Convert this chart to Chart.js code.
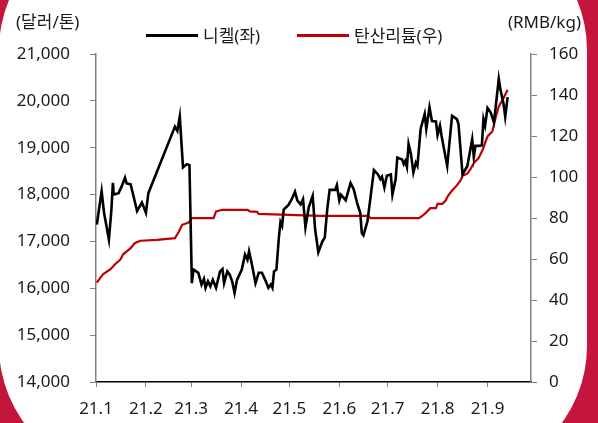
<!DOCTYPE html>
<html>
<head>
<meta charset="utf-8">
<script src="https://cdn.jsdelivr.net/npm/chart.js@4"></script>
<style>
html, body { margin: 0; padding: 0; }
body { width: 598px; height: 423px; background: #c4153c; overflow: hidden; position: relative; }
#card { position: absolute; left: -1px; top: -80px; width: 588px; height: 556px; background: #fff; border-radius: 130px; }
#wrap { position: absolute; left: 0; top: 0; width: 598px; height: 423px; }
</style>
</head>
<body>
<div id="card"></div>
<div id="wrap"><canvas id="chart" width="598" height="423"></canvas></div>
<script>
// x axis: days since 2021-01-01, ticks at month starts
const monthDays = [0, 31, 59, 90, 120, 151, 181, 212, 243];
const monthLabels = ['21.1', '21.2', '21.3', '21.4', '21.5', '21.6', '21.7', '21.8', '21.9'];
const leftUnit = '(달러/톤)';
const rightUnit = '(RMB/kg)';

// 니켈 (USD/ton, left axis)
const nickelDays = [0.5, 3.5, 5, 8, 9.5, 10.5, 11, 14, 16, 18, 19, 21.5, 25.5, 28.5, 31, 32.5,
  49, 50.5, 52, 54, 56.5, 58, 59.5, 60.5, 63.5, 65.5, 67, 68, 69.5, 71, 72.5, 74.5, 77, 78.5,
  79.5, 81.5, 83, 84.5, 86, 87.5, 90.5, 92.5, 94, 95, 97, 99, 101, 103, 105, 107, 108.5, 109.5,
  110.5, 112, 113.5, 114.5, 115.5, 116.5, 119.5, 121.5, 123.5, 125, 127, 128.5, 130, 132,
  134.5, 136, 138, 140.5, 142, 143.5, 145, 148.5, 149.5, 151, 152, 155, 158, 160, 162, 164,
  165, 166, 168.5, 170.5, 172.5, 175, 176.5, 177.5, 179, 180.5, 183, 184, 186, 187, 190, 191,
  192, 193, 194, 195.5, 197, 198.5, 199.5, 201.5, 204, 205, 207, 208.5, 211, 212, 213.5, 214.5,
  218, 221, 224, 225, 227.5, 230.5, 233.5, 234.5, 235.5, 237.5, 239.5, 240.5, 241.5, 243, 245,
  247, 250, 251, 253, 254, 255.5];
const nickelValues = [17360, 18070, 17610, 17040, 17650, 18250, 18000, 18030, 18180, 18360, 18240,
  18220, 17650, 17830, 17610, 18030,
  19450, 19360, 19670, 18580, 18650, 18630, 16110, 16400, 16330, 16080, 16200, 16010, 16150,
  16040, 16180, 16010, 16360, 16410, 16110, 16360, 16290, 16150, 15900, 16180, 16400, 16720,
  16610, 16790, 16470, 16110, 16330, 16330, 16180, 16010, 16080, 16010, 16360, 16400, 17080,
  17410, 17330, 17680, 17780, 17900, 18060, 17870, 17790, 17900, 17300, 17720, 17970, 17260,
  16770, 17000, 17080, 17680, 18100, 18100, 18200, 17880, 18000, 17880, 18250, 18110, 17830,
  17610, 17180, 17130, 17430, 17970, 18520, 18430, 18330, 18380, 18150, 18400, 18430, 18000,
  18330, 18790, 18750, 18650, 18720, 18590, 19080, 18860, 18470, 18680, 18610, 19400, 19720,
  19400, 19860, 19570, 19560, 19270, 19470, 19250, 18610, 19680, 19610, 19500, 18430, 18610,
  19180, 18800, 19040, 19040, 19050, 19610, 19470, 19850, 19750, 19540, 20470, 20250, 19930,
  19660, 20080];

// 탄산리튬 (RMB/kg, right axis)
const lithiumDays = [0.5, 4.5, 9, 12, 15, 17, 21.5, 24, 27.5, 38, 49, 51.5, 53.5, 57.5, 59.5,
  73, 74.5, 78.5, 94, 95.5, 100, 101, 139, 169, 170.5, 200.5, 202.5, 204.5, 207.5, 211, 212,
  215, 217, 218.5, 221, 224, 226.5, 227.5, 230.5, 232.5, 234.5, 237.5, 240, 243, 246, 248,
  250, 253, 255.5];
const lithiumValues = [48.5, 52.7, 55, 57.6, 59.6, 62.4, 65.3, 67.7, 68.9, 69.3, 70.2, 73.4, 76.7,
  77.8, 79.9, 79.9, 83.2, 84, 84, 83.2, 83, 82, 81, 81, 79.9, 79.9, 81, 82.4, 84.8, 84.8, 86.9,
  86.9, 88.5, 90.8, 93.4, 95.9, 98.6, 100.6, 101.6, 103.9, 106.8, 109.2, 113.3, 119.8, 122.2,
  128.8, 134.4, 138.5, 142.6];

const FONT = "'Noto Sans', 'Noto Sans CJK KR', sans-serif";
const TEXT = '#1a1a1a';

const nickelData = nickelDays.map((d, i) => ({ x: d, y: nickelValues[i] }));
const lithiumData = lithiumDays.map((d, i) => ({ x: d, y: lithiumValues[i] }));

// legend and unit labels drawn on top
const overlay = {
    id: 'overlay',
    afterDraw(chart) {
        const ctx = chart.ctx;
        ctx.save();
        ctx.font = '17px ' + FONT;
        ctx.fillStyle = TEXT;
        ctx.textBaseline = 'middle';
        ctx.textAlign = 'left';
        ctx.fillText(leftUnit, 16, 23);
        ctx.textAlign = 'right';
        ctx.fillText(rightUnit, 581, 23);

        const items = [[146, 0], [297, 1]];
        items.forEach(([x, idx]) => {
            const ds = chart.data.datasets[idx];
            ctx.strokeStyle = ds.borderColor;
            ctx.lineWidth = 3;
            ctx.beginPath();
            ctx.moveTo(x, 35.5);
            ctx.lineTo(x + 52, 35.5);
            ctx.stroke();
            ctx.textAlign = 'left';
            ctx.fillStyle = TEXT;
            ctx.fillText(ds.label, x + 57, 37);
        });
        ctx.restore();
    }
};

const ctx = document.getElementById('chart').getContext('2d');
new Chart(ctx, {
    type: 'line',
    data: {
        datasets: [{
            label: '니켈(좌)',
            data: nickelData,
            yAxisID: 'yL',
            borderColor: '#000000',
            borderWidth: 2.6,
            pointRadius: 0,
            tension: 0
        }, {
            label: '탄산리튬(우)',
            data: lithiumData,
            yAxisID: 'yR',
            borderColor: '#c00000',
            borderWidth: 2.2,
            pointRadius: 0,
            tension: 0
        }]
    },
    options: {
        responsive: false,
        animation: false,
        layout: { padding: { top: 54, left: 0, right: 0, bottom: 0 } },
        plugins: {
            legend: { display: false },
            tooltip: { enabled: false }
        },
        scales: {
            x: {
                type: 'linear',
                min: 0,
                max: 270,
                afterBuildTicks: s => { s.ticks = monthDays.map(v => ({ value: v })); },
                afterFit: s => { s.height = 41; },
                ticks: {
                    autoSkip: false,
                    maxRotation: 0,
                    padding: 12,
                    color: TEXT,
                    font: { family: FONT, size: 17 },
                    callback: (v, i) => monthLabels[i]
                },
                grid: { drawOnChartArea: false, drawTicks: true, tickLength: 5, color: '#808080' },
                border: { color: '#000000', width: 1.5 }
            },
            yL: {
                position: 'left',
                min: 14000,
                max: 21000,
                afterFit: s => { s.width = 96; },
                ticks: {
                    stepSize: 1000,
                    padding: 20,
                    color: TEXT,
                    font: { family: FONT, size: 17 },
                    callback: v => v.toLocaleString('en-US')
                },
                grid: { drawOnChartArea: false, drawTicks: true, tickLength: 6, color: '#808080' },
                border: { color: '#808080', width: 1.5 }
            },
            yR: {
                position: 'right',
                min: 0,
                max: 160,
                afterFit: s => { s.width = 67; },
                ticks: {
                    stepSize: 20,
                    padding: 12,
                    color: TEXT,
                    font: { family: FONT, size: 17 }
                },
                grid: { drawOnChartArea: false, drawTicks: true, tickLength: 6, color: '#808080' },
                border: { color: '#808080', width: 1.5 }
            }
        }
    },
    plugins: [overlay]
});
</script>
</body>
</html>
